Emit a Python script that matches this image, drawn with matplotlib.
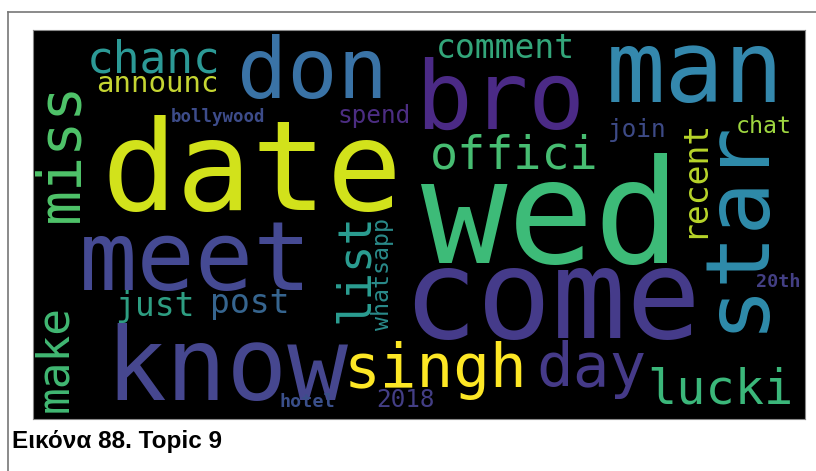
import matplotlib
matplotlib.use("Agg")
import matplotlib.pyplot as plt
from matplotlib.lines import Line2D

# topic 9 word cloud (layout on a 400x200 canvas, like wordcloud's default)
words = ["date", "wed", "come", "know", "meet", "bro", "man", "star", "don",
         "singh", "day", "miss", "lucki", "offici", "list", "make", "chanc",
         "recent", "comment", "just", "post", "announc", "spend", "join",
         "2018", "whatsapp", "chat", "bollywood", "hotel", "20th"]
sizes = [66.8, 76.7, 66.3, 53.9, 51.8, 50.3, 52.8, 47.7, 44.6,
         32.6, 32.6, 31.1, 25.9, 24.9, 24.4, 23.8, 23.8,
         17.6, 17.6, 17.6, 17.6, 15.5, 13.0, 13.0,
         13.0, 12.4, 12.4, 9.3, 9.8, 9.8]
pos_x = [35.4, 201.0, 191.4, 37.4, 23.9, 198.0, 296.9, 377.2, 105.8,
         161.2, 260.7, 23.2, 318.2, 205.7, 173.3, 17.8, 28.0,
         347.1, 208.8, 42.6, 91.8, 32.7, 157.6, 298.0,
         177.8, 184.5, 364.3, 71.5, 127.5, 374.6]
pos_y = [92.5, 119.8, 158.4, 190.2, 133.7, 50.9, 37.0, 155.5, 35.0,
         183.5, 183.0, 98.7, 191.8, 71.0, 150.6, 196.4, 21.6,
         106.9, 14.4, 147.0, 145.5, 31.9, 47.8, 55.0,
         193.8, 154.2, 53.0, 47.3, 193.8, 132.1]
vertical = ["star", "miss", "list", "make", "recent", "whatsapp"]
colors = {
    "date": "#d2e21b", "wed": "#3dbb78", "come": "#453b8a", "know": "#46478f",
    "meet": "#454a93", "bro": "#4b2a86", "man": "#3488ad", "star": "#2f8cab",
    "don": "#3a73a6", "singh": "#fde725", "day": "#453a88", "miss": "#4fc46a",
    "lucki": "#3bb77a", "offici": "#47bd72", "list": "#2b9e92", "make": "#41b873",
    "chanc": "#2c9a96", "recent": "#b8d52a", "comment": "#33a67a", "just": "#2e9e82",
    "post": "#36658f", "announc": "#c5d532", "spend": "#4c2d82", "join": "#3d4a86",
    "2018": "#433e85", "whatsapp": "#2a8a8a", "chat": "#9ed640",
    "bollywood": "#3d4c8a", "hotel": "#3a4f8a", "20th": "#433f84",
}
bold_small = ["bollywood", "hotel", "20th"]

W, H = 816, 471
fig = plt.figure(figsize=(W / 100, H / 100), dpi=100)

# black word cloud panel
ax = fig.add_axes([33 / W, (H - 419) / H, 772 / W, 389 / H])
ax.set_facecolor("black")
ax.set_xlim(0, 400)
ax.set_ylim(200, 0)
ax.set_xticks([])
ax.set_yticks([])
for sp in ax.spines.values():
    sp.set_color("#888888")
    sp.set_linewidth(0.8)

px_per_unit = 772 / 400
for w, s, x, y in zip(words, sizes, pos_x, pos_y):
    fs = s * px_per_unit * 0.72 * 0.97
    ax.text(x, y, w, fontsize=fs, color=colors[w], family="DejaVu Sans Mono",
            weight="bold" if w in bold_small else "normal",
            rotation=90 if w in vertical else 0, rotation_mode="anchor",
            ha="left", va="baseline")

# page frame and caption
fig.add_artist(Line2D([8 / W, 1], [1 - 12 / H, 1 - 12 / H], color="#777777", lw=1.2))
fig.add_artist(Line2D([8 / W, 8 / W], [0, 1 - 12 / H], color="#777777", lw=1.2))
fig.text(12 / W, 1 - 448 / H, "Εικόνα 88. Topic 9", fontsize=17.5, weight="bold",
         family="Liberation Sans", va="baseline", ha="left")

fig.savefig("out.png", dpi=100, facecolor="white")
